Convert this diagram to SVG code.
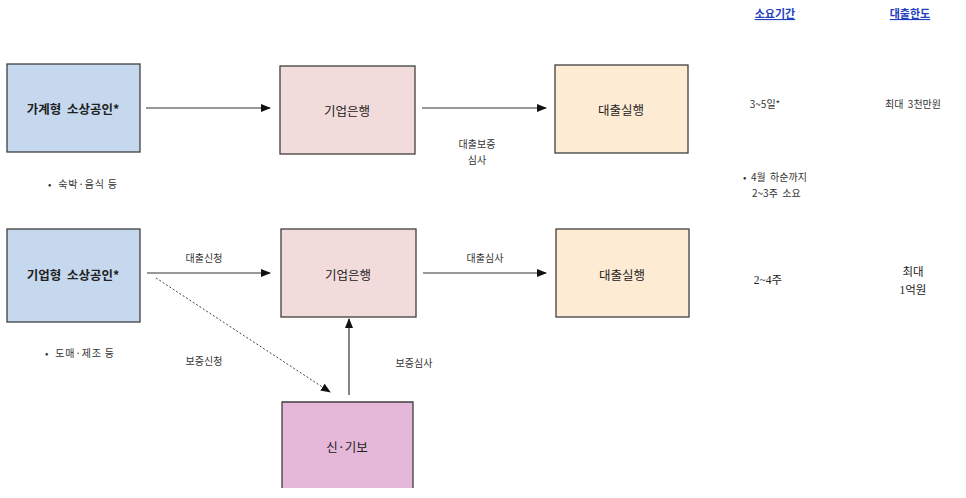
<svg xmlns="http://www.w3.org/2000/svg" width="966" height="498" viewBox="0 0 966 498">
<style>
text{white-space:pre}
.box{stroke:#3f3f3f;stroke-width:1.3}
.lbl{font-family:"Noto Sans CJK KR","Noto Sans",sans-serif;font-size:12.5px;fill:#222;text-anchor:middle;dominant-baseline:central}
.sm{font-family:"Noto Sans CJK KR","Noto Sans",sans-serif;font-size:10px;fill:#333;text-anchor:middle;dominant-baseline:central}
.st{text-anchor:start}
.ser{font-family:"Liberation Serif","Noto Sans CJK KR",serif;font-size:11.5px;fill:#222;text-anchor:middle;dominant-baseline:central}
.hdr{font-family:"Noto Sans CJK KR","Noto Sans",sans-serif;font-size:11px;fill:#1f3fbf;text-anchor:middle;text-decoration:underline;font-weight:bold}
.ln{stroke:#333;stroke-width:1.2;fill:none}
</style>
<defs>
<marker id="ah" markerWidth="10" markerHeight="8" refX="9" refY="4" orient="auto" markerUnits="userSpaceOnUse">
<path d="M0,0 L10,4 L0,8 z" fill="#111"/>
</marker>
</defs>
<rect width="966" height="498" fill="#fff"/>
<g id="connectors">
<line class="ln" x1="146" y1="108" x2="270" y2="108" marker-end="url(#ah)"/>
<line class="ln" x1="422" y1="108" x2="546" y2="108" marker-end="url(#ah)"/>
<line class="ln" x1="147" y1="273" x2="270" y2="273" marker-end="url(#ah)"/>
<line class="ln" x1="423" y1="273" x2="546" y2="273" marker-end="url(#ah)"/>
<line class="ln" x1="349" y1="395" x2="349" y2="319" marker-end="url(#ah)"/>
<line x1="156" y1="278" x2="330" y2="392" stroke="#444" stroke-width="1" stroke-dasharray="2,2" marker-end="url(#ah)"/>
<text class="sm" x="477" y="143">대출보증</text>
<text class="sm" x="477" y="159">심사</text>
<text class="sm" x="204" y="257">대출신청</text>
<text class="sm" x="485" y="257">대출심사</text>
<text class="sm" x="204" y="360">보증신청</text>
<text class="sm" x="414" y="362">보증심사</text>
</g>
<g id="n1">
<rect class="box" x="7" y="64" width="133" height="88" fill="#c5d8ee"/>
<text class="lbl" x="73" y="108" font-weight="bold">가계형  소상공인*</text>
</g>
<text class="sm st" x="48" y="183" letter-spacing="0.8">•  숙박·음식 등</text>
<g id="n2">
<rect class="box" x="280" y="66" width="135" height="88" fill="#f2dcdb"/>
<text class="lbl" x="347" y="110">기업은행</text>
</g>
<g id="n3">
<rect class="box" x="555" y="65" width="133" height="88" fill="#fdebd3"/>
<text class="lbl" x="621" y="109">대출실행</text>
</g>
<g id="n4">
<rect class="box" x="7" y="229" width="133" height="93" fill="#c5d8ee"/>
<text class="lbl" x="73" y="274" font-weight="bold">기업형  소상공인*</text>
</g>
<text class="sm st" x="45" y="352" letter-spacing="0.8">•  도매·제조 등</text>
<g id="n5">
<rect class="box" x="281" y="229" width="135" height="88" fill="#f2dcdb"/>
<text class="lbl" x="348" y="274">기업은행</text>
</g>
<g id="n6">
<rect class="box" x="556" y="229" width="133" height="88" fill="#fdebd3"/>
<text class="lbl" x="622" y="274">대출실행</text>
</g>
<g id="n7">
<rect x="282" y="402" width="131" height="86" fill="#e5b8da"/>
<path class="box" fill="none" d="M282,488 V402 H413 V488"/>
<text class="lbl" x="347" y="446">신·기보</text>
</g>
<g id="table">
<text class="hdr" x="775" y="18">소요기간</text>
<text class="hdr" x="910" y="18">대출한도</text>
<text class="sm" x="765" y="103" font-size="10.5">3~5일*</text>
<text class="sm" x="913" y="103" font-size="10.5">최대  3천만원</text>
<text class="sm st" x="743" y="176">•  4월  하순까지</text>
<text class="sm st" x="752" y="192">2~3주  소요</text>
<text class="ser" x="768" y="280">2~4주</text>
<text class="ser" x="913" y="272">최대</text>
<text class="ser" x="913" y="290">1억원</text>
</g>
</svg>
